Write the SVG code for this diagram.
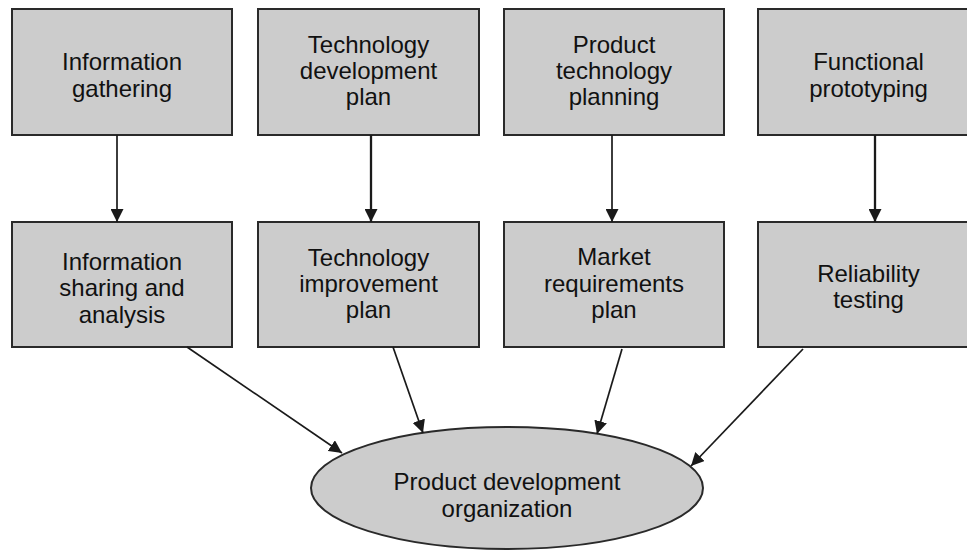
<svg xmlns="http://www.w3.org/2000/svg" width="967" height="552" viewBox="0 0 967 552">
<defs>
<style>
.box{fill:#cccccc;stroke:#2a2a2a;stroke-width:2}
.t{font-family:"Liberation Sans",Arial,sans-serif;font-size:24px;fill:#111;text-anchor:middle}
.c{stroke:#1a1a1a;stroke-width:1.7;fill:none}
.c2{stroke:#1a1a1a;stroke-width:2.3;fill:none}
</style>
<marker id="ah" viewBox="0 0 10 10" refX="10" refY="5" markerUnits="userSpaceOnUse" markerWidth="13" markerHeight="13" orient="auto">
<path d="M0,0 L10,5 L0,10 z" fill="#1a1a1a"/>
</marker>
</defs>
<rect width="967" height="552" fill="#ffffff"/>
<g id="n1"><rect class="box" x="12" y="9" width="220" height="126"/><text class="t" x="122" y="70">Information</text><text class="t" x="122" y="97">gathering</text></g>
<g id="n2"><rect class="box" x="258" y="9" width="221" height="126"/><text class="t" x="368.5" y="53">Technology</text><text class="t" x="368.5" y="79">development</text><text class="t" x="368.5" y="105">plan</text></g>
<g id="n3"><rect class="box" x="504" y="9" width="220" height="126"/><text class="t" x="614" y="53">Product</text><text class="t" x="614" y="79">technology</text><text class="t" x="614" y="105">planning</text></g>
<g id="n4"><rect class="box" x="758" y="9" width="221" height="126"/><text class="t" x="868.5" y="70">Functional</text><text class="t" x="868.5" y="97">prototyping</text></g>
<g id="n5"><rect class="box" x="12" y="222" width="220" height="125"/><text class="t" x="122" y="270">Information</text><text class="t" x="122" y="296">sharing and</text><text class="t" x="122" y="323">analysis</text></g>
<g id="n6"><rect class="box" x="258" y="222" width="221" height="125"/><text class="t" x="368.5" y="266">Technology</text><text class="t" x="368.5" y="292">improvement</text><text class="t" x="368.5" y="318">plan</text></g>
<g id="n7"><rect class="box" x="504" y="222" width="220" height="125"/><text class="t" x="614" y="265">Market</text><text class="t" x="614" y="292">requirements</text><text class="t" x="614" y="318">plan</text></g>
<g id="n8"><rect class="box" x="758" y="222" width="221" height="125"/><text class="t" x="868.5" y="282">Reliability</text><text class="t" x="868.5" y="308">testing</text></g>
<g id="n9"><ellipse class="box" cx="507" cy="488" rx="196" ry="61"/><text class="t" x="507" y="490">Product development</text><text class="t" x="507" y="517">organization</text></g>
<g id="connectors">
<line class="c" x1="117" y1="135" x2="117" y2="222" marker-end="url(#ah)"/>
<line class="c2" x1="371" y1="135" x2="371" y2="222" marker-end="url(#ah)"/>
<line class="c" x1="612" y1="135" x2="612" y2="222" marker-end="url(#ah)"/>
<line class="c2" x1="875" y1="135" x2="875" y2="222" marker-end="url(#ah)"/>
<line class="c" x1="187" y1="347" x2="342" y2="453" marker-end="url(#ah)"/>
<line class="c" x1="393" y1="347" x2="423" y2="433" marker-end="url(#ah)"/>
<line class="c" x1="622" y1="349" x2="597" y2="434" marker-end="url(#ah)"/>
<line class="c" x1="803" y1="349" x2="691" y2="466" marker-end="url(#ah)"/>
</g>
</svg>
